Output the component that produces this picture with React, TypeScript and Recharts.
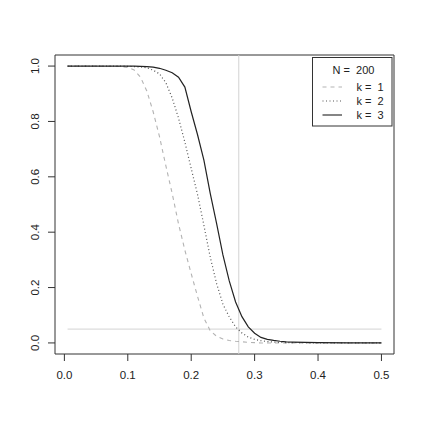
import React from "react";
import { LineChart, Line, XAxis, YAxis, ReferenceLine, ReferenceArea } from "recharts";

const xs = [0.005, 0.05, 0.08, 0.09, 0.1, 0.11, 0.12, 0.13, 0.14, 0.15, 0.16, 0.17, 0.18, 0.19, 0.2, 0.21, 0.22, 0.23, 0.24, 0.25, 0.26, 0.27, 0.28, 0.29, 0.3, 0.31, 0.32, 0.33, 0.34, 0.35, 0.36, 0.4, 0.45, 0.5];
const k1 = [1, 1, 0.999, 0.998, 0.995, 0.986, 0.96, 0.91, 0.835, 0.745, 0.64, 0.54, 0.43, 0.335, 0.25, 0.168, 0.09, 0.044, 0.024, 0.014, 0.009, 0.006, 0.004, 0.002, 0.001, 0, 0, 0, 0, 0, 0, 0, 0, 0];
const k2 = [1, 1, 1, 1, 0.999, 0.998, 0.997, 0.994, 0.985, 0.972, 0.94, 0.885, 0.812, 0.725, 0.63, 0.536, 0.425, 0.31, 0.215, 0.14, 0.094, 0.058, 0.036, 0.021, 0.013, 0.008, 0.005, 0.003, 0.002, 0.001, 0.001, 0, 0, 0];
const k3 = [1, 1, 1, 1, 1, 1, 0.999, 0.998, 0.996, 0.992, 0.985, 0.976, 0.96, 0.924, 0.835, 0.752, 0.66, 0.54, 0.432, 0.318, 0.224, 0.148, 0.095, 0.058, 0.035, 0.02, 0.013, 0.009, 0.006, 0.004, 0.003, 0.001, 0, 0];
const xTicks = [0, 0.1, 0.2, 0.3, 0.4, 0.5];
const yTicks = [0, 0.2, 0.4, 0.6, 0.8, 1];
const legendTitle = "N =  200";
const legendLabels = ["k =  1", "k =  2", "k =  3"];
const alphaLevel = 0.05;
const vLineX = 0.275;

const data = xs.map((x, i) => ({ x, k1: k1[i], k2: k2[i], k3: k3[i] }));

const FONT = "'Liberation Sans', Arial, sans-serif";

const YTick = (props: any) => {
  const { x, y, payload } = props;
  return (
    <text
      transform={`translate(${x - 6.7},${y}) rotate(-90)`}
      textAnchor="middle"
      fontSize={11.5}
      fontFamily={FONT}
      fill="#222"
    >
      {payload.value.toFixed(1)}
    </text>
  );
};

const XTick = (props: any) => {
  const { x, y, payload } = props;
  return (
    <text x={x} y={y + 16} textAnchor="middle" fontSize={11.5} fontFamily={FONT} fill="#222">
      {payload.value.toFixed(1)}
    </text>
  );
};

const styles = [
  { stroke: "#b3b3b3", dash: "4 4" },
  { stroke: "#555555", dash: "1 2.5" },
  { stroke: "#222222", dash: undefined as string | undefined },
];

export default function App() {
  return (
    <div style={{ position: "absolute", left: 0, top: 0, width: 423, height: 423, background: "#fff" }}>
      <LineChart width={423} height={423} data={data} margin={{ top: 55, right: 29, bottom: 0, left: 0 }}>
        <XAxis
          dataKey="x"
          type="number"
          domain={[-0.0148, 0.5198]}
          ticks={xTicks}
          allowDataOverflow
          axisLine={false}
          tickLine={{ stroke: "#333" }}
          tickSize={7}
          tick={<XTick />}
          height={69}
        />
        <YAxis
          type="number"
          domain={[-0.04, 1.04]}
          ticks={yTicks}
          allowDataOverflow
          axisLine={false}
          tickLine={{ stroke: "#333" }}
          tickSize={7}
          tick={<YTick />}
          width={55}
        />
        <ReferenceLine stroke="#d3d3d3" strokeWidth={1} ifOverflow="visible" segment={[{ x: 0.005, y: alphaLevel }, { x: 0.5, y: alphaLevel }]} />
        <ReferenceLine x={vLineX} stroke="#d3d3d3" strokeWidth={1} />
        <Line dataKey="k1" type="linear" dot={false} stroke={styles[0].stroke} strokeDasharray={styles[0].dash} strokeWidth={1.1} isAnimationActive={false} />
        <Line dataKey="k2" type="linear" dot={false} stroke={styles[1].stroke} strokeDasharray={styles[1].dash} strokeWidth={1.2} isAnimationActive={false} />
        <Line dataKey="k3" type="linear" dot={false} stroke={styles[2].stroke} strokeWidth={1.2} isAnimationActive={false} />
        <ReferenceArea x1={-0.0148} x2={0.5198} y1={-0.04} y2={1.04} fill="none" stroke="#333" strokeWidth={1} ifOverflow="visible" />
      </LineChart>
      <svg width={423} height={423} style={{ position: "absolute", left: 0, top: 0, pointerEvents: "none" }}>
        <rect x={312.5} y={57.5} width={79.5} height={68.5} fill="#fff" stroke="#333" strokeWidth={1} />
        <text x={353.5} y={74} textAnchor="middle" fontSize={11} fontFamily={FONT} fill="#222" style={{ whiteSpace: "pre" }}>
          {legendTitle}
        </text>
        {legendLabels.map((lab, i) => (
          <g key={lab}>
            <line x1={322.5} x2={342} y1={87 + i * 14} y2={87 + i * 14} stroke={styles[i].stroke} strokeDasharray={styles[i].dash} strokeWidth={1.1} />
            <text x={356.5} y={91 + i * 14} fontSize={11} fontFamily={FONT} fill="#222" style={{ whiteSpace: "pre" }}>
              {lab}
            </text>
          </g>
        ))}
      </svg>
    </div>
  );
}
